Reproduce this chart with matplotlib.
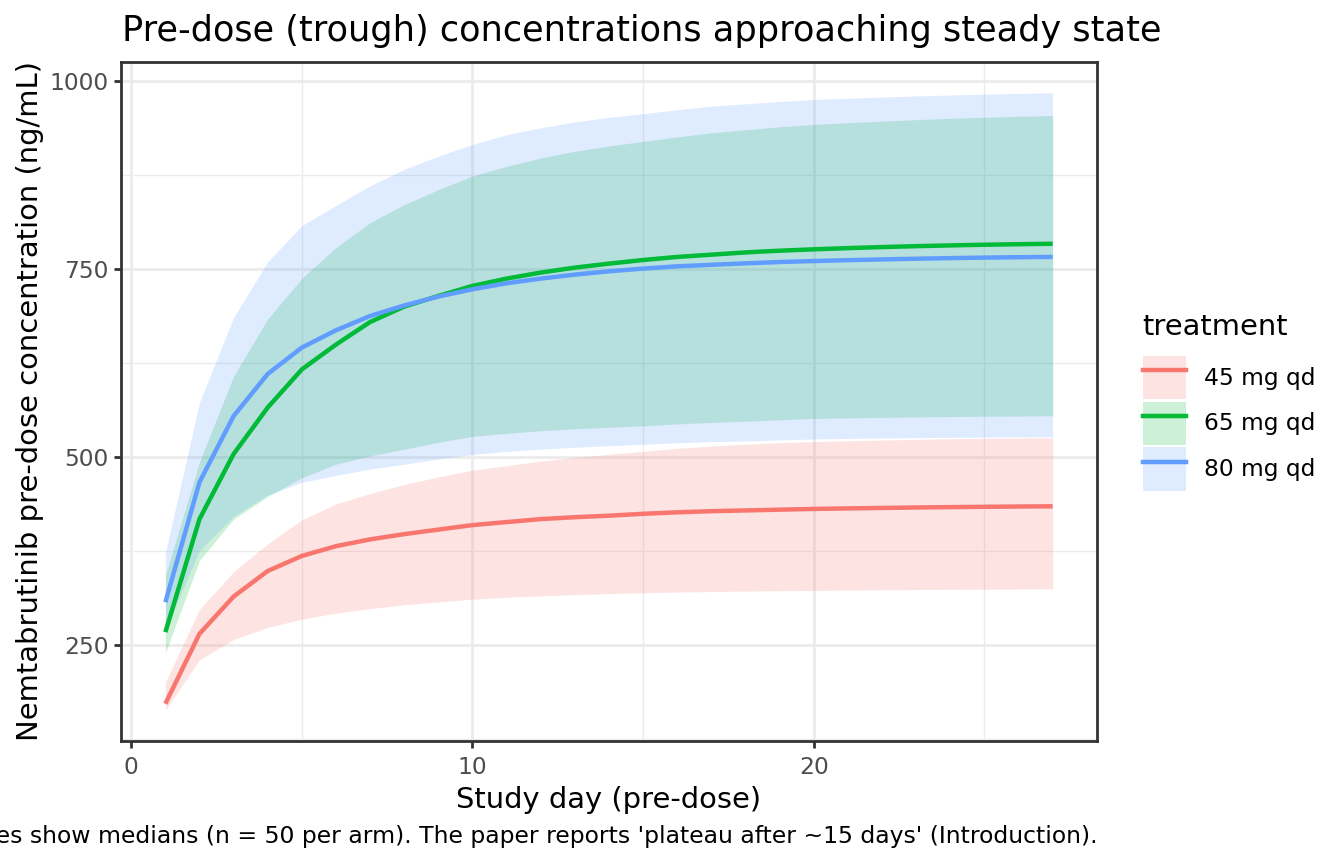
import numpy as np
import matplotlib
matplotlib.use('Agg')
import matplotlib.pyplot as plt
from matplotlib.patches import Patch
from matplotlib.lines import Line2D
from matplotlib.ticker import MultipleLocator

plt.rcParams['font.family'] = ['DejaVu Sans']

days = np.arange(1, 28)
treatments = ['45 mg qd', '65 mg qd', '80 mg qd']
colors = ['#F8766D', '#00BA38', '#619CFF']

# medians and 5th/95th percentile bands
med_45 = [171.5, 264.5, 314, 348, 368, 381, 390, 397, 403, 409, 413, 417, 419.5, 421.5,
          424, 426, 427.5, 428.5, 429.5, 430.5, 431.2, 431.8, 432.4, 432.9, 433.3, 433.7, 434]
hi_45 = [200, 297, 347, 384, 416, 437, 451, 463, 473, 482, 488, 494, 499, 503,
         507, 511, 514, 516.5, 518.5, 520, 521, 522, 523, 523.7, 524.3, 524.8, 525]
lo_45 = [163, 230, 257, 273, 284, 292, 298, 303, 307, 310.5, 313, 315, 316.5, 318,
         319, 320, 320.7, 321.3, 321.8, 322.2, 322.6, 323, 323.3, 323.6, 323.8, 324, 324.2]

med_65 = [266.7, 417, 503.5, 565.4, 616, 649, 679, 699.5, 713.6, 727, 736.7, 744.7, 751.3, 756.6,
          761.4, 765.5, 768.5, 771.5, 773.8, 775.6, 777.2, 778.6, 779.8, 780.8, 781.7, 782.4, 783]
hi_65 = [342, 493, 607, 683, 737, 778, 811, 835, 855, 873, 886, 897, 906, 913,
         919, 925, 930.5, 934.5, 938.5, 941.6, 944, 946, 948, 949.8, 951.2, 952.4, 953.5]
lo_65 = [239, 362, 417, 447, 472, 490, 501, 510, 519, 527, 531, 534.5, 537, 539,
         541, 543.5, 545.5, 547, 549, 550.8, 551.5, 552.2, 552.8, 553.3, 553.7, 554, 554.3]

med_80 = [306.5, 466, 554, 610, 645, 668, 687, 701, 712.8, 722.5, 730.5, 736.7, 742, 746.4,
          750, 753, 755, 757, 758.7, 760, 761.2, 762.2, 763.1, 763.9, 764.6, 765.1, 765.5]
hi_80 = [372, 572, 685, 759, 807, 834, 860, 882, 899.5, 915, 928, 937, 945, 951,
         956, 961, 966, 969, 972, 974.8, 976.5, 978, 979.5, 980.7, 981.8, 982.8, 983.6]
lo_80 = [270, 375, 421, 449, 466, 475, 483.5, 490, 497, 503, 507, 510, 512.5, 514.5,
         516.5, 518.5, 520, 521, 522.3, 523.4, 524.2, 524.8, 525.3, 525.7, 526, 526.2, 526.4]

meds = [med_45, med_65, med_80]
his = [hi_45, hi_65, hi_80]
los = [lo_45, lo_65, lo_80]

W, H = 1344, 864
fig = plt.figure(figsize=(W / 100, H / 100), dpi=100)
ax = fig.add_axes([121/W, 1 - 741/H, (1097 - 121)/W, (741 - 62)/H])

# ribbons first, then median lines (same order as the legend)
for lo, hi, c in zip(los, his, colors):
    ax.fill_between(days, lo, hi, color=c, alpha=0.2, linewidth=0)
for med, c in zip(meds, colors):
    ax.plot(days, med, color=c, linewidth=3.2, solid_capstyle='butt')

ax.margins(x=0.05, y=0.05)
ax.set_xticks([0, 10, 20])
ax.set_yticks([250, 500, 750, 1000])
ax.xaxis.set_minor_locator(MultipleLocator(5))
ax.set_yticks([125, 375, 625, 875], minor=True)
ax.set_axisbelow(True)
ax.grid(which='major', color='#EBEBEB', linewidth=2.0)
ax.grid(which='minor', color='#EBEBEB', linewidth=1.0)
ax.tick_params(which='major', length=5, width=2.0, color='#333333',
               labelsize=16.8, labelcolor='#4D4D4D', pad=4)
ax.tick_params(axis='x', which='major', pad=6)
ax.tick_params(which='minor', length=0)
for s in ax.spines.values():
    s.set_color('#333333')
    s.set_linewidth(2.0)

ax.set_xlabel('Study day (pre-dose)', fontsize=20.9, labelpad=5)
ax.set_ylabel('Nemtabrutinib pre-dose concentration (ng/mL)', fontsize=20.9, labelpad=4)

fig.text(122/W, 1 - 31/H, 'Pre-dose (trough) concentrations approaching steady state',
         fontsize=25.3, ha='left', va='center')
fig.text(1097/W, 1 - 836/H,
         "Ribbons show 5th-95th percentiles; lines show medians (n = 50 per arm). "
         "The paper reports 'plateau after ~15 days' (Introduction).",
         fontsize=16.9, ha='right', va='center')

# legend: title as its own text, keys = fill square + line
fig.text(1142/W, 1 - 327/H, 'treatment', fontsize=20.9, ha='left', va='center')
handles = [(Patch(facecolor=c, alpha=0.2, linewidth=0), Line2D([], [], color=c, linewidth=3.2))
           for c in colors]
leg = fig.legend(handles, treatments, loc='upper left',
                 bbox_to_anchor=(1143/W, 1 - 356/H), frameon=False, fontsize=16.8,
                 handlelength=1.85, handleheight=2.48, labelspacing=0.1,
                 handletextpad=0.75, borderpad=0, borderaxespad=0)

fig.savefig('out.png', dpi=100)
